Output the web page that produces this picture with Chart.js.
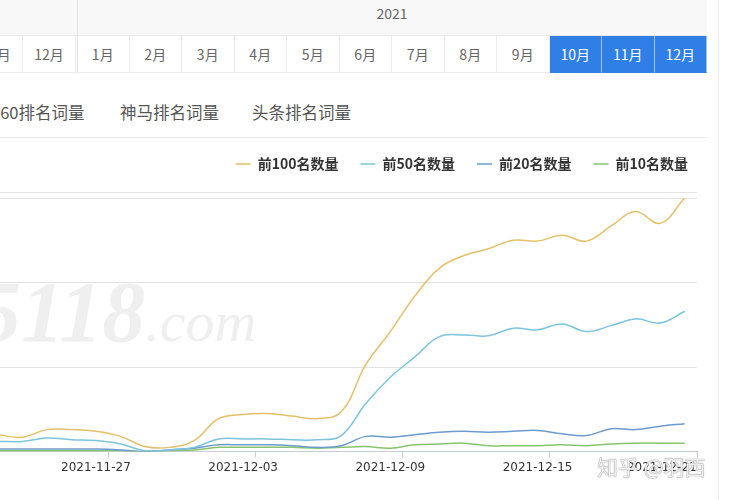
<!DOCTYPE html>
<html>
<head>
<meta charset="utf-8">
<script src="https://cdn.jsdelivr.net/npm/chart.js@4/dist/chart.umd.min.js"></script>
<style>
  body {
    margin: 0;
    width: 729px;
    height: 500px;
    overflow: hidden;
    position: relative;
    background: #fff;
    font-family: "Noto Sans CJK SC", sans-serif;
  }
  .abs { position: absolute; }
  .yearrow { top: 0; left: 0; width: 707px; height: 35px; background: #f8f8f8; border-bottom: 1px solid #e9e9e9; }
  .year { top: 0; height: 26px; line-height: 26px; text-align: center; color: #666; font-size: 14px; }
  .cell { top: 36px; height: 37px; line-height: 37px; text-align: center; color: #666; font-size: 14px;
          box-sizing: border-box; border-right: 1px solid #ececec; border-bottom: 1px solid #ececec; background: #fff; }
  .cell.on { background: #2f7fe6; color: #fff; border-right: 1px solid #9cc2f3; border-bottom: 1px solid #2f7fe6; }
  .tab { top: 100px; font-size: 16.5px; color: #555; line-height: 24px; }
  #mark { left: -22px; top: 262px; font-family: "Liberation Serif", serif; font-style: italic; font-weight: bold;
          font-size: 86px; color: #efefef; white-space: nowrap; }
  #mark small { font-size: 58px; font-weight: normal; }
  #zhihu { left: 597px; top: 451px; font-size: 21px; color: rgba(255,255,255,0.85); white-space: nowrap;
           text-shadow: 0 0 1px #8a8a8a, 0 0 1px #8a8a8a; z-index: 5; }
  #chart { left: -39px; top: 135px; }
</style>
</head>
<body>
<div id="head"></div>
<div class="abs" style="left:77px;top:0;width:1px;height:73px;background:#e2e2e2;"></div>
<span class="abs tab" style="left:-9px;">360排名词量</span>
<span class="abs tab" style="left:120px;">神马排名词量</span>
<span class="abs tab" style="left:252px;">头条排名词量</span>
<div class="abs" style="left:0;top:137px;width:707px;height:1px;background:#e9e9e9;"></div>
<div class="abs" style="left:0;top:192px;width:697px;height:1px;background:#e3e3e3;"></div>
<div class="abs" style="left:718px;top:0;width:1px;height:500px;background:#f0f0f0;"></div>
<div class="abs" id="mark">5118<small>.com</small></div>
<canvas class="abs" id="chart" width="768" height="365"></canvas>
<div class="abs" id="zhihu">知乎 @羽西</div>

<script>
  // month picker on top
  const years = ["2020", "2021"];
  const months2020 = ["11月", "12月"];
  const months2021 = ["1月", "2月", "3月", "4月", "5月", "6月", "7月", "8月", "9月", "10月", "11月", "12月"];
  const selected = ["10月", "11月", "12月"];

  // chart data
  const dates = [
    "2021-11-22", "2021-11-23", "2021-11-24", "2021-11-25", "2021-11-26", "2021-11-27",
    "2021-11-28", "2021-11-29", "2021-11-30", "2021-12-01", "2021-12-02", "2021-12-03",
    "2021-12-04", "2021-12-05", "2021-12-06", "2021-12-07", "2021-12-08", "2021-12-09",
    "2021-12-10", "2021-12-11", "2021-12-12", "2021-12-13", "2021-12-14", "2021-12-15",
    "2021-12-16", "2021-12-17", "2021-12-18", "2021-12-19", "2021-12-20", "2021-12-21"
  ];
  const top100 = [23, 20, 17, 26, 26, 24, 18, 6, 5, 13, 39, 44, 45, 42, 39, 47, 103, 142, 184, 217, 232, 240, 250, 249, 256, 249, 267, 284, 270, 300];
  const top50 = [12, 12, 12, 16, 14, 13, 9, 1, 2, 5, 15, 15, 15, 14, 14, 19, 57, 88, 112, 136, 138, 137, 146, 144, 151, 142, 149, 157, 152, 166];
  const top20 = [2, 3, 3, 3, 3, 3, 2, 0, 2, 4, 8, 8, 8, 7, 5, 7, 18, 17, 20, 23, 24, 23, 24, 25, 21, 19, 27, 26, 30, 33];
  const top10 = [1, 1, 1, 1, 1, 1, 1, 0, 1, 2, 5, 5, 5, 5, 4, 5, 6, 4, 8, 9, 10, 7, 7, 7, 8, 7, 9, 10, 10, 10];
  const seriesNames = ["前100名数量", "前50名数量", "前20名数量", "前10名数量"];
  const seriesColors = ["#e2c06c", "#7cc4dc", "#6c9bcd", "#88c46c"];

  var head = document.getElementById("head");
  var html = '<div class="abs yearrow"></div>';
  html += '<div class="abs year" style="left:77px;width:630px;">' + years[1] + "</div>";
  months2020.forEach((m, i) => {
    html += '<div class="abs cell" style="left:' + (-30 + i * 53) + 'px;width:53px;">' + m + "</div>";
  });
  months2021.forEach((m, i) => {
    var on = selected.indexOf(m) >= 0 ? " on" : "";
    html += '<div class="abs cell' + on + '" style="left:' + (77 + i * 52.5) + 'px;width:52.5px;">' + m + "</div>";
  });
  head.innerHTML = html;

  // pushes the plot a bit lower under the legend
  const legendGap = {
    id: "legendGap",
    beforeInit(chart) {
      const fit = chart.legend.fit;
      chart.legend.fit = function () {
        fit.bind(chart.legend)();
        this.height += 17;
      };
    }
  };

  const seriesData = [top100, top50, top20, top10];
  const ctx = document.getElementById("chart").getContext("2d");
  new Chart(ctx, {
    type: "line",
    data: {
      labels: dates,
      datasets: seriesData.map((d, i) => ({
        label: seriesNames[i],
        data: d,
        borderColor: seriesColors[i],
        backgroundColor: seriesColors[i],
        borderWidth: 1.5,
        pointRadius: 0,
        tension: 0.4,
        fill: false
      }))
    },
    options: {
      responsive: false,
      animation: false,
      layout: { padding: { top: 0, right: 19, bottom: 22, left: 0 } },
      plugins: {
        legend: {
          position: "top",
          align: "end",
          labels: {
            usePointStyle: true,
            pointStyle: "line",
            pointStyleWidth: 15,
            padding: 22,
            color: "#333",
            font: { family: "Noto Sans CJK SC", size: 14, weight: "bold" }
          }
        },
        tooltip: { enabled: false }
      },
      scales: {
        x: {
          offset: true,
          grid: {
            display: true,
            drawOnChartArea: false,
            drawTicks: true,
            tickLength: 6,
            offset: true,
            tickColor: (c) => (c.type !== "tick" || c.index % 6 === 0 ? "#c8ccd3" : "rgba(0,0,0,0)")
          },
          border: { color: "#c8ccd3" },
          ticks: {
            autoSkip: false,
            maxRotation: 0,
            padding: 3,
            color: "#333",
            font: { family: "DejaVu Sans", size: 12 },
            callback: (v, i) => {
              if (i % 6 !== 5) return "";
              return i === dates.length - 1 ? dates[i] + "\u2007".repeat(6) : dates[i];
            }
          },
          afterFit: (s) => {
            s.paddingLeft = 0;
            s.paddingRight = 0;
          }
        },
        y: {
          min: 0,
          max: 300,
          ticks: { display: false, stepSize: 100 },
          grid: { color: "#e3e3e3", drawTicks: false },
          border: { display: false },
          afterFit: (s) => {
            s.width = 0;
          }
        },
        y2: {
          position: "right",
          ticks: { display: false },
          grid: { display: false },
          border: { display: false },
          afterFit: (s) => {
            s.width = 13;
          }
        }
      }
    },
    plugins: [legendGap]
  });
</script>
</body>
</html>
